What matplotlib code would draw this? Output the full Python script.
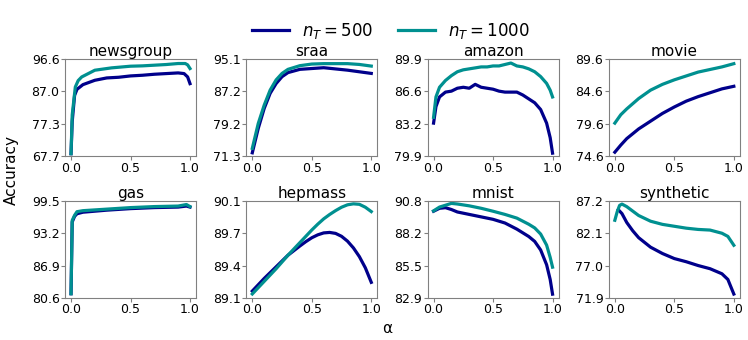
import numpy as np
import matplotlib.pyplot as plt

# --- data (alpha, accuracy for n_T=500 / n_T=1000) ---
titles = ["newsgroup", "sraa", "amazon", "movie", "gas", "hepmass", "mnist", "synthetic"]
y_limits = [(67.7, 96.6), (71.3, 95.1), (79.9, 89.9), (74.6, 89.6),
            (80.6, 99.5), (89.1, 90.1), (82.9, 90.8), (71.9, 87.2)]
ytick_labels = [["67.7", "77.3", "87.0", "96.6"], ["71.3", "79.2", "87.2", "95.1"],
                ["79.9", "83.2", "86.6", "89.9"], ["74.6", "79.6", "84.6", "89.6"],
                ["80.6", "86.9", "93.2", "99.5"], ["89.1", "89.4", "89.7", "90.1"],
                ["82.9", "85.5", "88.2", "90.8"], ["71.9", "77.0", "82.1", "87.2"]]

newsgroup_a500 = [0.0, 0.01, 0.03, 0.05, 0.1, 0.2, 0.3, 0.4, 0.5, 0.6, 0.7, 0.8, 0.9, 0.95, 0.98, 1.0]
newsgroup_500 = [68.4, 78.0, 85.8, 87.6, 89.0, 90.3, 91.0, 91.2, 91.6, 91.8, 92.1, 92.3, 92.5, 92.3, 91.3, 89.3]
newsgroup_a1000 = [0.0, 0.01, 0.036, 0.06, 0.09, 0.2, 0.34, 0.5, 0.6, 0.7, 0.8, 0.9, 0.96, 0.98, 1.0]
newsgroup_1000 = [68.4, 80.0, 88.3, 90.2, 91.3, 93.3, 94.0, 94.5, 94.6, 94.8, 95.0, 95.3, 95.3, 94.9, 93.8]

sraa_a = [0.0, 0.05, 0.1, 0.15, 0.2, 0.25, 0.3, 0.4, 0.5, 0.6, 0.7, 0.8, 0.9, 1.0]
sraa_500 = [72.1, 78.1, 83.0, 86.7, 89.1, 90.8, 91.8, 92.6, 92.8, 93.0, 92.7, 92.4, 92.0, 91.6]
sraa_1000 = [73.2, 79.3, 83.8, 87.5, 90.0, 91.6, 92.6, 93.5, 93.9, 94.0, 94.0, 94.0, 93.8, 93.4]

amazon_a = [0.0, 0.02, 0.05, 0.1, 0.15, 0.2, 0.25, 0.3, 0.35, 0.4, 0.45, 0.5, 0.55, 0.6,
            0.65, 0.7, 0.75, 0.8, 0.85, 0.9, 0.95, 0.98, 1.0]
amazon_500 = [83.3, 85.0, 86.0, 86.5, 86.6, 86.9, 87.0, 86.9, 87.3, 87.0, 86.9, 86.8, 86.6, 86.5,
              86.5, 86.5, 86.2, 85.8, 85.4, 84.7, 83.3, 81.8, 80.2]
amazon_1000 = [83.9, 86.0, 87.0, 87.7, 88.2, 88.6, 88.8, 88.9, 89.0, 89.1, 89.1, 89.2, 89.2, 89.35,
               89.5, 89.2, 89.1, 88.9, 88.6, 88.1, 87.4, 86.7, 86.0]

movie_a = [0.0, 0.05, 0.1, 0.2, 0.3, 0.4, 0.5, 0.6, 0.7, 0.8, 0.9, 1.0]
movie_500 = [75.2, 76.3, 77.3, 78.8, 80.0, 81.2, 82.2, 83.1, 83.8, 84.4, 85.0, 85.4]
movie_1000 = [79.7, 81.0, 81.9, 83.5, 84.8, 85.7, 86.4, 87.0, 87.6, 88.0, 88.4, 88.9]

gas_a = [0.0, 0.01, 0.03, 0.05, 0.1, 0.3, 0.5, 0.7, 0.9, 0.97, 1.0]
gas_500 = [81.4, 95.4, 96.5, 97.0, 97.3, 97.7, 98.0, 98.2, 98.3, 98.5, 98.3]
gas_1000 = [81.4, 95.7, 96.7, 97.4, 97.6, 97.9, 98.2, 98.4, 98.5, 98.8, 98.4]

hepmass_a = [0.0, 0.1, 0.2, 0.3, 0.4, 0.45, 0.5, 0.55, 0.6, 0.65, 0.7, 0.75, 0.8, 0.85, 0.9, 0.95, 1.0]
hepmass_500 = [89.17, 89.30, 89.42, 89.54, 89.635, 89.68, 89.72, 89.75, 89.77, 89.775, 89.765,
               89.735, 89.685, 89.615, 89.525, 89.41, 89.26]
hepmass_1000 = [89.14, 89.27, 89.40, 89.54, 89.67, 89.735, 89.80, 89.86, 89.915, 89.96, 90.00,
                90.035, 90.06, 90.07, 90.065, 90.035, 89.99]

mnist_a = [0.0, 0.05, 0.1, 0.15, 0.2, 0.3, 0.4, 0.5, 0.6, 0.7, 0.8, 0.85, 0.9, 0.95, 0.98, 1.0]
mnist_500 = [89.96, 90.2, 90.25, 90.1, 89.9, 89.7, 89.5, 89.3, 89.0, 88.5, 87.9, 87.5, 86.8, 85.6, 84.4, 83.2]
mnist_1000 = [89.99, 90.3, 90.45, 90.6, 90.55, 90.4, 90.2, 89.96, 89.7, 89.4, 88.9, 88.6, 88.1, 87.2, 86.2, 85.4]

synthetic_a500 = [0.03, 0.06, 0.1, 0.15, 0.2, 0.3, 0.4, 0.5, 0.6, 0.7, 0.8, 0.9, 0.95, 1.0]
synthetic_500 = [85.8, 85.2, 83.8, 82.5, 81.4, 79.9, 78.9, 78.1, 77.6, 77.0, 76.5, 75.7, 74.8, 72.5]
synthetic_a1000 = [0.0, 0.02, 0.04, 0.06, 0.1, 0.15, 0.2, 0.3, 0.4, 0.5, 0.6, 0.7, 0.8, 0.9, 0.95, 1.0]
synthetic_1000 = [84.15, 85.5, 86.5, 86.7, 86.3, 85.6, 84.9, 84.0, 83.5, 83.2, 82.9, 82.7, 82.6, 82.1, 81.6, 80.2]

series = [
    (newsgroup_a500, newsgroup_500, newsgroup_a1000, newsgroup_1000),
    (sraa_a, sraa_500, sraa_a, sraa_1000),
    (amazon_a, amazon_500, amazon_a, amazon_1000),
    (movie_a, movie_500, movie_a, movie_1000),
    (gas_a, gas_500, gas_a, gas_1000),
    (hepmass_a, hepmass_500, hepmass_a, hepmass_1000),
    (mnist_a, mnist_500, mnist_a, mnist_1000),
    (synthetic_a500, synthetic_500, synthetic_a1000, synthetic_1000),
]

c500 = "#00008b"
c1000 = "#009090"

fig, axes = plt.subplots(2, 4, figsize=(7.48, 3.4), dpi=100)
fig.subplots_adjust(left=0.087, right=0.989, bottom=0.124, top=0.826, wspace=0.385, hspace=0.463)

for ax, title, ylim, labels, (a1, v1, a2, v2) in zip(axes.flat, titles, y_limits, ytick_labels, series):
    l1, = ax.plot(a1, v1, color=c500, lw=2.3)
    l2, = ax.plot(a2, v2, color=c1000, lw=2.3)
    ax.set_title(title, fontsize=11, pad=2)
    ax.set_ylim(*ylim)
    ax.set_yticks(np.linspace(ylim[0], ylim[1], 4))
    ax.set_yticklabels(labels)
    ax.set_xticks([0.0, 0.5, 1.0])
    ax.tick_params(labelsize=9, color="gray", length=3, pad=1)
    for s in ax.spines.values():
        s.set_color("gray")

fig.legend([l1, l2], ["$n_T = 500$", "$n_T = 1000$"], loc="center", ncol=2,
           bbox_to_anchor=(0.523, 0.91), frameon=False, fontsize=12,
           handlelength=2.2, columnspacing=1.5)
fig.text(0.015, 0.5, "Accuracy", rotation=90, va="center", ha="center", fontsize=11)
fig.text(0.517, 0.035, "α", va="center", ha="center", fontsize=11)

plt.savefig("out.png", dpi=100)
